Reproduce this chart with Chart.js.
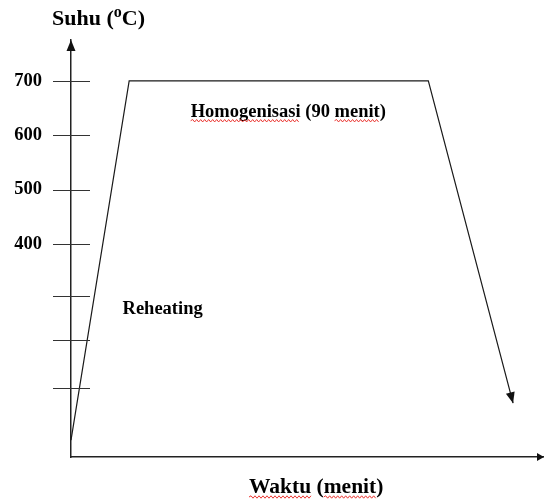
<!DOCTYPE html>
<html>
<head>
<meta charset="utf-8">
<script src="https://cdn.jsdelivr.net/npm/chart.js@4.4.1/dist/chart.umd.min.js"></script>
<style>
html, body { margin: 0; padding: 0; background: #fff; }
#wrap { width: 544px; height: 503px; position: relative; }
</style>
</head>
<body>
<div id="wrap"><canvas id="heatChart"></canvas></div>
<script>
// data
var time_values = [0, 17.5, 107.5, 133];
var temp_values = [39, 700, 700, 107];
var tick_values = [700, 600, 500, 400, 304, 223, 135];
var tick_labels = ['700', '600', '500', '400', '', '', ''];
var phase_labels = ['Homogenisasi (90 menit)', 'Reheating'];
var phase_label_x = [36, 15.5];
var phase_label_y = [634, 272];
var x_title = 'Waktu (menit)';
var y_title = ['Suhu (', 'o', 'C)'];

var SERIF = "'Liberation Serif', 'Times New Roman', serif";

function arrowHead(ctx, tipX, tipY, dx, dy, len, half)
{
    var n = Math.sqrt(dx * dx + dy * dy);
    dx = dx / n; dy = dy / n;
    var bx = tipX - dx * len, by = tipY - dy * len;
    ctx.beginPath();
    ctx.moveTo(tipX, tipY);
    ctx.lineTo(bx - dy * half, by + dx * half);
    ctx.lineTo(bx + dy * half, by - dx * half);
    ctx.closePath();
    ctx.fill();
}

function wavy(ctx, x0, x1, y)
{
    ctx.beginPath();
    ctx.moveTo(x0, y);
    var up = true;
    for (var x = x0 + 2; x <= x1; x += 2) {
        ctx.lineTo(x, up ? y - 1.2 : y + 1.2);
        up = !up;
    }
    ctx.stroke();
}

// underline the words the spell checker flagged
function underlineWords(ctx, text, left, baseline, words)
{
    ctx.save();
    ctx.strokeStyle = '#e8201c';
    ctx.lineWidth = 0.9;
    words.forEach(function(w){
        var i = text.indexOf(w);
        var x0 = left + ctx.measureText(text.substring(0, i)).width;
        var x1 = x0 + ctx.measureText(w).width;
        wavy(ctx, x0, x1, baseline + 4);
    });
    ctx.restore();
}

var diagramPlugin = {
    id: 'diagram',
    afterDraw: function(chart){
        var ctx = chart.ctx, area = chart.chartArea;
        var xs = chart.scales.x, ys = chart.scales.y;
        ctx.save();

        // tick marks crossing the temperature axis
        ctx.strokeStyle = '#333';
        ctx.lineWidth = 1;
        ys.ticks.forEach(function(t){
            var py = Math.round(ys.getPixelForValue(t.value)) + 0.5;
            ctx.beginPath();
            ctx.moveTo(area.left - 18, py);
            ctx.lineTo(area.left + 19, py);
            ctx.stroke();
        });

        // axis arrows
        ctx.fillStyle = '#111';
        arrowHead(ctx, area.left, area.top, 0, -1, 11, 4.5);
        arrowHead(ctx, area.right + 1, area.bottom, 1, 0, 7, 4);

        // arrow at the end of the cooling line
        var pts = chart.getDatasetMeta(0).data;
        var a = pts[pts.length - 2], b = pts[pts.length - 1];
        arrowHead(ctx, b.x, b.y, b.x - a.x, b.y - a.y, 11, 4.5);

        // phase labels placed in data coordinates
        ctx.fillStyle = '#000';
        ctx.textBaseline = 'alphabetic';
        ctx.textAlign = 'left';
        ctx.font = 'bold 18.5px ' + SERIF;
        phase_labels.forEach(function(txt, i){
            var lx = xs.getPixelForValue(phase_label_x[i]);
            var ly = ys.getPixelForValue(phase_label_y[i]);
            ctx.fillText(txt, lx, ly);
            if (i === 0) underlineWords(ctx, txt, lx, ly, ['Homogenisasi', 'menit']);
        });

        // x axis title
        ctx.font = 'bold 21.5px ' + SERIF;
        var wx = 249, wy = 493;
        ctx.fillText(x_title, wx, wy);
        underlineWords(ctx, x_title, wx, wy, ['Waktu', 'menit']);

        // y axis title with superscript o
        var sx = 52, sy = 25;
        ctx.font = 'bold 22px ' + SERIF;
        ctx.fillText(y_title[0], sx, sy);
        sx += ctx.measureText(y_title[0]).width;
        ctx.font = 'bold 16px ' + SERIF;
        ctx.fillText(y_title[1], sx, sy - 8);
        sx += ctx.measureText(y_title[1]).width;
        ctx.font = 'bold 22px ' + SERIF;
        ctx.fillText(y_title[2], sx, sy);

        ctx.restore();
    }
};

var points = time_values.map(function(t, i){ return {x: t, y: temp_values[i]}; });

new Chart(document.getElementById('heatChart'), {
    type: 'line',
    data: {
        datasets: [{
            data: points,
            borderColor: '#1a1a1a',
            borderWidth: 1.2,
            pointRadius: 0,
            tension: 0,
            fill: false,
            clip: false
        }]
    },
    options: {
        responsive: true,
        maintainAspectRatio: false,
        animation: false,
        devicePixelRatio: 1,
        layout: { padding: { top: 40, right: 1, left: 0, bottom: 0 } },
        plugins: { legend: { display: false }, tooltip: { enabled: false } },
        scales: {
            x: {
                type: 'linear',
                min: 0,
                max: 142,
                grid: { display: false, drawTicks: false },
                border: { display: true, color: '#222', width: 1.5 },
                ticks: { display: false },
                afterFit: function(scale){ scale.height = 46; }
            },
            y: {
                type: 'linear',
                min: 8,
                max: 775,
                grid: { display: false, drawTicks: false },
                border: { display: true, color: '#222', width: 1.5 },
                afterBuildTicks: function(scale){
                    scale.ticks = tick_values.map(function(v){ return {value: v}; });
                },
                ticks: {
                    autoSkip: false,
                    padding: 29,
                    color: '#000',
                    font: { family: SERIF, size: 18.5, weight: 'bold' },
                    callback: function(value){
                        var i = tick_values.indexOf(value);
                        return i >= 0 ? tick_labels[i] : '';
                    }
                },
                afterFit: function(scale){ scale.width = 71; }
            }
        }
    },
    plugins: [diagramPlugin]
});
</script>
</body>
</html>
